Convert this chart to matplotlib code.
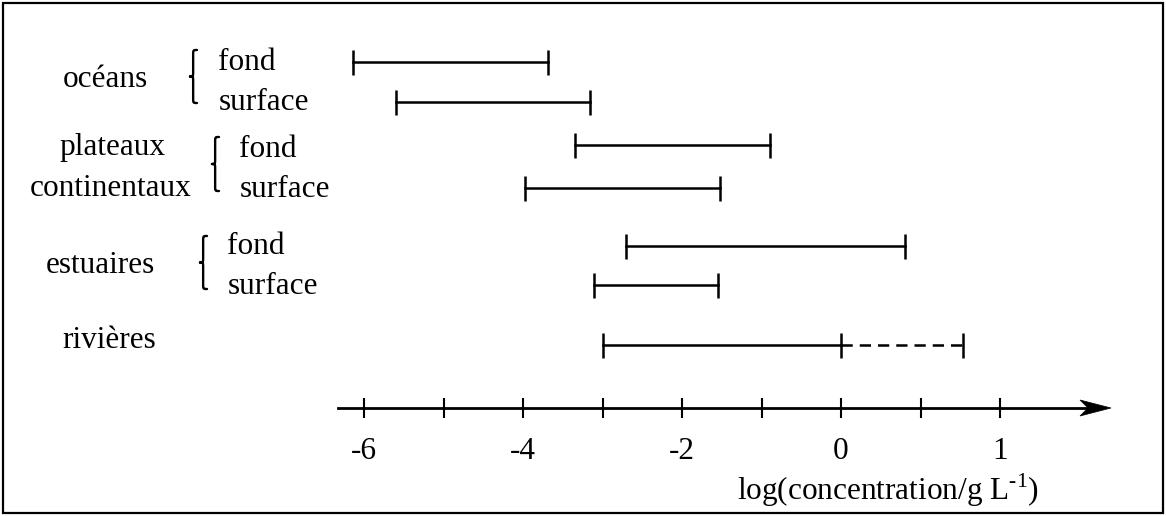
import matplotlib
matplotlib.use("Agg")
import matplotlib.pyplot as plt
from matplotlib.path import Path
from matplotlib.patches import PathPatch, Rectangle, Polygon

plt.rcParams['font.family'] = ['Liberation Serif', 'DejaVu Serif']
plt.rcParams['mathtext.fontset'] = 'custom'
plt.rcParams['mathtext.rm'] = 'Liberation Serif'

# ranges of log(concentration / g L-1)
groups = ["océans", "plateaux", "continentaux", "estuaires", "rivières"]
fond_lo = [-6.14, -3.35, -2.70]
fond_hi = [-3.69, -0.89, 0.80]
surf_lo = [-5.60, -3.97, -3.11]
surf_hi = [-3.16, -1.52, -1.55]
riv_lo, riv_mid, riv_hi = -3.0, 0.0, 1.53

tick_pos = [-6, -5, -4, -3, -2, -1, 0, 1, 2]
label_pos = [-6, -4, -2, 0, 2]
label_txt = ["-6", "-4", "-2", "0", "1"]

# layout (pixels)
W, H = 1166, 516
X0PIX, UNIT = 841, 79.5
fond_y = [62, 145, 246]
surf_y = [102, 188, 285]
riv_y = 345
axis_y = 408


def dx(p):
    return (p - X0PIX) / UNIT


fig = plt.figure(figsize=(W / 100, H / 100), dpi=100)
ax = fig.add_axes([0, 0, 1, 1])
ax.set_xlim(dx(0), dx(W))
ax.set_ylim(H, 0)
ax.axis("off")

fig.add_artist(Rectangle((3 / W, 3 / H), 1 - 6 / W, 1 - 6 / H,
                         transform=fig.transFigure, fill=False, lw=1.6, ec="black"))

lw = 1.8
cap = 18


def bar(lo, hi, y):
    ax.plot([lo, hi], [y, y], color="black", lw=lw)
    ax.plot([lo, hi], [y, y], ls="none", marker="|", ms=cap, mew=lw, color="black")


for i in range(3):
    bar(fond_lo[i], fond_hi[i], fond_y[i])
    bar(surf_lo[i], surf_hi[i], surf_y[i])

ax.plot([riv_lo, riv_mid], [riv_y, riv_y], color="black", lw=lw)
ax.plot([riv_mid, riv_hi], [riv_y, riv_y], color="black", lw=lw, dashes=(4.5, 2.8))
ax.plot([riv_lo, riv_mid, riv_hi], [riv_y] * 3, ls="none", marker="|", ms=cap, mew=lw, color="black")


def brace(xp, yt, yb, w=7):
    xl, xm, xr = dx(xp), dx(xp + w * 0.45), dx(xp + w)
    ym = (yt + yb) / 2
    r = 5
    verts = [(xr, yt), (xm, yt), (xm, yt), (xm, yt + r),
             (xm, ym - r),
             (xm, ym), (xm, ym), (xl, ym),
             (xm, ym), (xm, ym), (xm, ym + r),
             (xm, yb - r),
             (xm, yb), (xm, yb), (xr, yb)]
    codes = [Path.MOVETO, Path.CURVE4, Path.CURVE4, Path.CURVE4,
             Path.LINETO,
             Path.CURVE4, Path.CURVE4, Path.CURVE4,
             Path.CURVE4, Path.CURVE4, Path.CURVE4,
             Path.LINETO,
             Path.CURVE4, Path.CURVE4, Path.CURVE4]
    ax.add_patch(PathPatch(Path(verts, codes), fill=False, lw=1.7, ec="black",
                           capstyle="round", joinstyle="round"))


fs = 22.5
brace(190, 50, 103)
brace(212, 137, 191)
brace(200, 236, 289)

ax.text(dx(105), 87, groups[0], fontsize=fs, ha="center", va="baseline")
ax.text(dx(112), 155, groups[1], fontsize=fs, ha="center", va="baseline")
ax.text(dx(111), 196, groups[2], fontsize=fs, ha="center", va="baseline")
ax.text(dx(100), 273, groups[3], fontsize=fs, ha="center", va="baseline")
ax.text(dx(109), 348, groups[4], fontsize=fs, ha="center", va="baseline")

text_rows = [(218, 70, 110), (239, 157, 197), (227, 254, 294)]
for gx, fb, sb in text_rows:
    ax.text(dx(gx), fb, "fond", fontsize=fs, ha="left", va="baseline")
    ax.text(dx(gx + 1), sb, "surface", fontsize=fs, ha="left", va="baseline")

# axis with arrow
ax.plot([dx(338), dx(1090)], [axis_y, axis_y], color="black", lw=2)
ax.add_patch(Polygon([(dx(1111), axis_y), (dx(1080), axis_y - 8), (dx(1088), axis_y),
                      (dx(1080), axis_y + 8)], closed=True, fc="black", ec="black", lw=0.5))
ax.vlines(tick_pos, axis_y - 10, axis_y + 10, color="black", lw=1.5)
for p, t in zip(label_pos, label_txt):
    ax.text(p, 459, t, fontsize=fs, ha="center", va="baseline")
ax.text(dx(737), 500, "log(concentration/g L$^{\\mathrm{\u2010}1}$)", fontsize=fs, ha="left", va="baseline")

fig.savefig("out.png", dpi=100)
